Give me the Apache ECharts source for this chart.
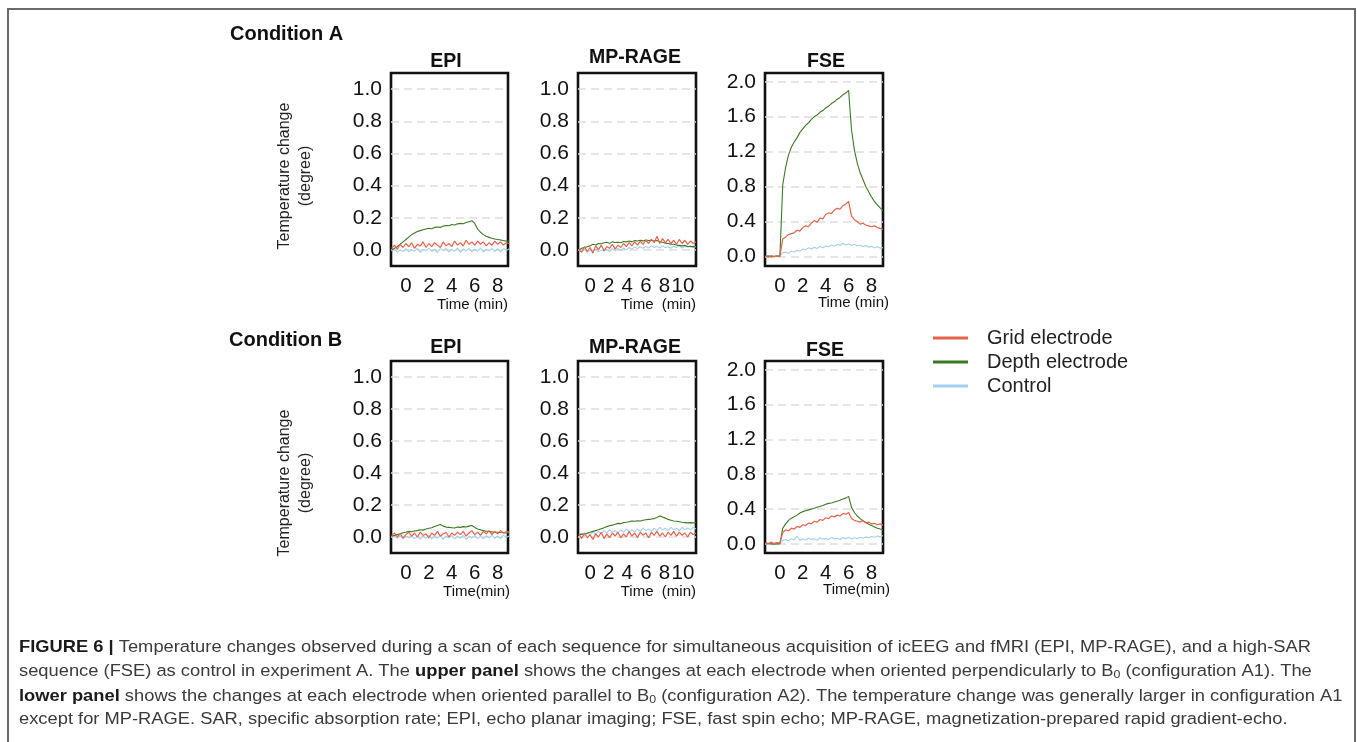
<!DOCTYPE html>
<html>
<head>
<meta charset="utf-8">
<script src="https://cdn.jsdelivr.net/npm/echarts@6/dist/echarts.min.js"></script>
<style>
html,body{margin:0;padding:0;background:#fff;}
#chart{position:absolute;left:0;top:0;width:1357px;height:742px;}
#frame{position:absolute;left:7px;top:8px;width:1349px;height:800px;box-sizing:border-box;border:2px solid #6a6a6a;border-bottom:none;pointer-events:none;}
</style>
</head>
<body>
<div id="chart"></div>
<div id="frame"></div>
<script>
// ---------- DATA ----------
const seriesNames = ['Grid electrode', 'Depth electrode', 'Control'];
const panelTitles = ['EPI', 'MP-RAGE', 'FSE'];
const ticksEpi = [0, 2, 4, 6, 8];
const ticksMp = [0, 2, 4, 6, 8, 10];
const ticksFse = [0, 2, 4, 6, 8];
const yTicks1 = [0, 0.2, 0.4, 0.6, 0.8, 1.0];
const yTicks2 = [0, 0.4, 0.8, 1.2, 1.6, 2.0];

// sample times (min)
const tA = [-1.25,-1,-0.75,-0.5,-0.25,0,0.25,
  0.5,0.75,1,1.25,1.5,1.75,2,
  2.25,2.5,2.75,3,3.25,3.5,3.75,
  4,4.25,4.5,4.75,5,5.25,5.5,
  5.75,6,6.25,6.5,6.75,7,7.25,
  7.5,7.75,8,8.25,8.5,8.75,9];
const tM = [-1.2,-0.9,-0.6,-0.3,0,0.3,0.6,
  0.9,1.2,1.5,1.8,2.1,2.4,2.7,
  3,3.3,3.6,3.9,4.2,4.5,4.8,
  5.1,5.4,5.7,6,6.3,6.6,6.9,
  7.2,7.5,7.8,8.1,8.4,8.7,9,
  9.3,9.6,9.9,10.2,10.5,10.8,11.1,11.4];

// Condition A - EPI
const epiA_grid = [0.01,0.03,0.005,0.035,0.015,0.04,0.02,
  0.045,0.01,0.035,0.025,0.05,0.015,0.04,
  0.02,0.045,0.03,0.015,0.05,0.025,0.04,
  0.02,0.055,0.03,0.045,0.025,0.06,0.035,
  0.05,0.03,0.055,0.035,0.05,0.025,0.045,
  0.03,0.055,0.035,0.05,0.03,0.045,0.04];
const epiA_depth = [0.0,0.01,0.02,0.035,0.05,0.065,0.08,
  0.095,0.105,0.115,0.12,0.125,0.13,0.135,
  0.132,0.14,0.143,0.14,0.148,0.152,0.15,
  0.158,0.155,0.162,0.165,0.163,0.17,0.175,
  0.182,0.165,0.13,0.11,0.095,0.085,0.078,
  0.072,0.068,0.065,0.062,0.058,0.055,0.055];
const epiA_ctrl = [-0.005,0.005,-0.015,0.0,-0.01,0.008,-0.012,
  0.003,-0.008,0.01,-0.015,0.002,-0.005,0.012,
  -0.01,0.005,-0.018,0.008,-0.004,0.01,-0.012,
  0.004,-0.008,0.012,-0.015,0.006,-0.006,0.01,
  -0.012,0.004,-0.008,0.012,-0.014,0.005,-0.006,
  0.01,-0.01,0.006,-0.012,0.008,-0.004,0.005];

// Condition A - MP-RAGE
const mpA_grid = [0.0,-0.015,0.02,-0.01,0.015,-0.02,0.025,
  0.0,0.03,-0.005,0.02,0.01,0.035,0.005,
  0.03,0.015,0.04,0.02,0.045,0.025,0.05,
  0.03,0.055,0.035,0.06,0.04,0.065,0.045,
  0.085,0.04,0.07,0.045,0.065,0.04,0.06,
  0.035,0.065,0.04,0.06,0.035,0.055,0.04,0.05];
const mpA_depth = [0.0,0.01,0.015,0.02,0.025,0.035,0.03,
  0.04,0.038,0.045,0.048,0.042,0.05,0.046,
  0.048,0.045,0.052,0.05,0.055,0.05,0.058,
  0.055,0.06,0.056,0.062,0.058,0.06,0.055,
  0.058,0.05,0.048,0.042,0.04,0.036,0.035,
  0.03,0.028,0.025,0.027,0.022,0.02,0.022,0.018];
const mpA_ctrl = [0.0,-0.01,0.005,-0.015,0.0,-0.01,0.005,
  -0.012,0.0,-0.008,0.005,-0.01,0.008,-0.005,
  0.01,-0.005,0.012,0.0,0.015,0.005,0.018,
  0.008,0.02,0.01,0.022,0.012,0.025,0.015,
  0.022,0.012,0.025,0.015,0.02,0.01,0.022,
  0.015,0.025,0.012,0.022,0.018,0.028,0.015,0.022];

// Condition A - FSE
const fseA_grid = [0.0,-0.01,0.01,-0.005,0.005,0.0,0.2,
  0.22,0.25,0.26,0.27,0.3,0.29,0.33,
  0.35,0.34,0.38,0.41,0.39,0.44,0.43,
  0.48,0.5,0.49,0.53,0.55,0.54,0.58,
  0.6,0.63,0.46,0.42,0.4,0.37,0.38,
  0.36,0.35,0.34,0.35,0.33,0.32,0.31];
const fseA_depth = [0.0,0.005,-0.005,0.0,0.005,0.0,0.82,
  1.02,1.16,1.25,1.31,1.36,1.42,1.46,
  1.5,1.53,1.57,1.6,1.62,1.65,1.67,
  1.7,1.72,1.75,1.77,1.8,1.82,1.85,
  1.87,1.9,1.45,1.22,1.07,0.96,0.88,
  0.8,0.74,0.68,0.63,0.59,0.555,0.525];
const fseA_ctrl = [0.0,0.01,-0.01,0.005,0.0,0.01,0.04,
  0.05,0.035,0.06,0.05,0.07,0.06,0.085,
  0.075,0.1,0.085,0.105,0.09,0.115,0.1,
  0.12,0.11,0.13,0.115,0.14,0.125,0.15,
  0.13,0.145,0.125,0.14,0.12,0.13,0.11,
  0.125,0.105,0.115,0.1,0.11,0.095,0.1];

// Condition B - EPI
const epiB_grid = [0.01,0.025,0.0,0.02,-0.005,0.015,0.03,
  0.005,0.025,0.0,0.03,0.01,0.02,-0.005,
  0.025,0.01,0.035,0.005,0.02,0.03,0.0,
  0.025,0.01,0.03,0.015,0.035,0.005,0.025,
  0.04,0.015,0.03,0.01,0.035,0.02,0.04,
  0.015,0.035,0.02,0.04,0.025,0.035,0.03];
const epiB_depth = [0.005,0.01,0.015,0.02,0.027,0.03,0.035,
  0.033,0.038,0.04,0.045,0.043,0.05,0.055,
  0.058,0.065,0.072,0.078,0.068,0.062,0.06,
  0.058,0.056,0.062,0.06,0.065,0.062,0.068,
  0.072,0.06,0.05,0.045,0.04,0.036,0.035,
  0.032,0.03,0.03,0.028,0.027,0.025,0.026];
const epiB_ctrl = [0.0,0.01,-0.008,0.005,-0.012,0.006,-0.005,
  0.008,-0.01,0.004,-0.014,0.006,-0.006,0.01,
  -0.012,0.003,-0.008,0.01,-0.015,0.005,-0.004,
  0.008,-0.012,0.006,-0.008,0.01,-0.014,0.004,
  -0.006,0.01,-0.01,0.005,-0.012,0.008,-0.005,
  0.01,-0.008,0.006,-0.01,0.012,-0.004,0.006];

// Condition B - MP-RAGE
const mpB_grid = [0.02,-0.01,0.025,-0.005,0.015,-0.015,0.02,
  0.0,0.03,-0.01,0.02,-0.005,0.025,0.005,
  0.03,-0.005,0.02,0.0,0.035,0.005,0.025,
  -0.005,0.03,0.01,0.025,-0.005,0.03,0.01,
  0.035,0.005,0.025,0.0,0.03,0.01,0.035,
  0.005,0.03,0.01,0.025,0.0,0.03,0.015,0.025];
const mpB_depth = [0.015,0.018,0.02,0.025,0.03,0.035,0.04,
  0.045,0.052,0.058,0.065,0.07,0.074,0.08,
  0.085,0.083,0.09,0.092,0.095,0.1,0.098,
  0.102,0.1,0.105,0.108,0.11,0.112,0.115,
  0.122,0.132,0.125,0.118,0.11,0.105,0.1,
  0.098,0.095,0.092,0.09,0.088,0.09,0.088,0.092];
const mpB_ctrl = [0.01,0.02,0.005,0.025,0.015,0.03,0.02,
  0.035,0.02,0.04,0.025,0.045,0.03,0.04,
  0.025,0.045,0.03,0.05,0.035,0.045,0.03,
  0.05,0.035,0.055,0.04,0.05,0.035,0.055,
  0.04,0.06,0.045,0.055,0.04,0.06,0.045,
  0.055,0.04,0.06,0.045,0.055,0.045,0.06,0.05];

// Condition B - FSE
const fseB_grid = [0.015,0.0,0.02,0.005,0.015,0.01,0.13,
  0.16,0.15,0.18,0.17,0.2,0.19,0.22,
  0.21,0.24,0.23,0.26,0.25,0.28,0.27,
  0.3,0.29,0.32,0.31,0.33,0.32,0.35,
  0.34,0.36,0.29,0.27,0.26,0.25,0.265,
  0.24,0.25,0.23,0.235,0.22,0.23,0.215];
const fseB_depth = [0.0,0.005,0.0,-0.005,0.0,0.0,0.18,
  0.23,0.27,0.295,0.31,0.33,0.355,0.37,
  0.38,0.39,0.4,0.41,0.42,0.43,0.44,
  0.455,0.465,0.47,0.48,0.49,0.5,0.515,
  0.525,0.545,0.42,0.36,0.32,0.29,0.265,
  0.245,0.225,0.21,0.195,0.18,0.17,0.16];
const fseB_ctrl = [0.0,0.01,-0.005,0.005,0.0,0.005,0.04,
  0.05,0.035,0.06,0.045,0.09,0.04,0.055,
  0.045,0.065,0.05,0.06,0.04,0.07,0.055,
  0.06,0.05,0.075,0.055,0.065,0.05,0.07,
  0.06,0.075,0.055,0.07,0.06,0.075,0.065,
  0.08,0.07,0.085,0.075,0.09,0.08,0.095];

// ---------- LAYOUT ----------
const FONT = '"Liberation Sans", Arial, Helvetica, sans-serif';
const colors = {grid: '#e8634c', depth: '#3b7a22', ctrl: '#a3d0ee'};

const panels = [
  {title: panelTitles[0], t: tA, grid: epiA_grid, depth: epiA_depth, ctrl: epiA_ctrl, xt: ticksEpi, yt: yTicks1, xmin: -1.3, xmax: 8.9, ymin: -0.1, ymax: 1.1,
   box: {left: 391, top: 73, width: 117, height: 193}, titleXY: [446, 62], timeXY: [508, 305], timeText: 'Time (min)'},
  {title: panelTitles[1], t: tM, grid: mpA_grid, depth: mpA_depth, ctrl: mpA_ctrl, xt: ticksMp, yt: yTicks1, xmin: -1.3, xmax: 11.4, ymin: -0.1, ymax: 1.1,
   box: {left: 578, top: 73, width: 118, height: 193}, titleXY: [635, 58], timeXY: [696, 305], timeText: 'Time  (min)'},
  {title: panelTitles[2], t: tA, grid: fseA_grid, depth: fseA_depth, ctrl: fseA_ctrl, xt: ticksFse, yt: yTicks2, xmin: -1.3, xmax: 9.0, ymin: -0.11, ymax: 2.1,
   box: {left: 765, top: 73, width: 118, height: 193}, titleXY: [826, 62], timeXY: [889, 303], timeText: 'Time (min)'},
  {title: panelTitles[0], t: tA, grid: epiB_grid, depth: epiB_depth, ctrl: epiB_ctrl, xt: ticksEpi, yt: yTicks1, xmin: -1.3, xmax: 8.9, ymin: -0.1, ymax: 1.1,
   box: {left: 391, top: 361, width: 117, height: 192}, titleXY: [446, 348], timeXY: [510, 592], timeText: 'Time(min)'},
  {title: panelTitles[1], t: tM, grid: mpB_grid, depth: mpB_depth, ctrl: mpB_ctrl, xt: ticksMp, yt: yTicks1, xmin: -1.3, xmax: 11.4, ymin: -0.1, ymax: 1.1,
   box: {left: 578, top: 361, width: 118, height: 192}, titleXY: [635, 348], timeXY: [696, 592], timeText: 'Time  (min)'},
  {title: panelTitles[2], t: tA, grid: fseB_grid, depth: fseB_depth, ctrl: fseB_ctrl, xt: ticksFse, yt: yTicks2, xmin: -1.3, xmax: 9.0, ymin: -0.105, ymax: 2.1,
   box: {left: 765, top: 361, width: 118, height: 192}, titleXY: [825, 351], timeXY: [890, 590], timeText: 'Time(min)'}
];

function zip(t, v) { return v.map((y, i) => [t[i], y]); }

const grids = [], xAxes = [], yAxes = [], series = [], graphics = [];
panels.forEach((p, i) => {
  grids.push(Object.assign({show: true, borderColor: '#111', borderWidth: 2.6, backgroundColor: 'transparent', containLabel: false}, p.box));
  xAxes.push({
    type: 'value', gridIndex: i, min: p.xmin, max: p.xmax,
    axisLine: {show: false}, splitLine: {show: false},
    axisTick: {show: false, customValues: p.xt},
    axisLabel: {customValues: p.xt, fontSize: 20.5, color: '#111', fontFamily: FONT, margin: 10}
  });
  yAxes.push({
    type: 'value', gridIndex: i, min: p.ymin, max: p.ymax,
    axisLine: {show: false},
    axisTick: {show: false, customValues: p.yt},
    axisLabel: {customValues: p.yt, fontSize: 21, color: '#111', fontFamily: FONT, margin: 9,
      formatter: v => v.toFixed(1)},
    splitLine: {show: true, lineStyle: {type: [8, 5], color: '#dedede', width: 1.6}}
  });
  const common = {type: 'line', xAxisIndex: i, yAxisIndex: i, showSymbol: false, symbol: 'none', clip: true, animation: false};
  series.push(Object.assign({}, common, {name: seriesNames[2], data: zip(p.t, p.ctrl), color: colors.ctrl, itemStyle: {color: colors.ctrl}, lineStyle: {color: colors.ctrl, width: 1.1}}));
  series.push(Object.assign({}, common, {name: seriesNames[1], data: zip(p.t, p.depth), color: colors.depth, itemStyle: {color: colors.depth}, lineStyle: {color: colors.depth, width: 1.1}}));
  series.push(Object.assign({}, common, {name: seriesNames[0], data: zip(p.t, p.grid), color: colors.grid, itemStyle: {color: colors.grid}, lineStyle: {color: colors.grid, width: 1.2}}));

  graphics.push({type: 'text', x: p.titleXY[0], y: p.titleXY[1], silent: true,
    style: {text: p.title, align: 'center', verticalAlign: 'middle', fontSize: 19.5, fontWeight: 'bold', fontFamily: FONT, fill: '#111'}});
  graphics.push({type: 'text', x: p.timeXY[0], y: p.timeXY[1], silent: true,
    style: {text: p.timeText, align: 'right', verticalAlign: 'middle', fontSize: 15, fontFamily: FONT, fill: '#111'}});
});

// condition labels
graphics.push({type: 'text', x: 230, y: 34, silent: true,
  style: {text: 'Condition A', align: 'left', verticalAlign: 'middle', fontSize: 20, fontWeight: 'bold', fontFamily: FONT, fill: '#111'}});
graphics.push({type: 'text', x: 229, y: 340, silent: true,
  style: {text: 'Condition B', align: 'left', verticalAlign: 'middle', fontSize: 20, fontWeight: 'bold', fontFamily: FONT, fill: '#111'}});

// y axis titles
[176, 483].forEach(cy => {
  graphics.push({type: 'text', x: 295, y: cy, rotation: Math.PI / 2, silent: true,
    style: {text: 'Temperature change\n(degree)', align: 'center', verticalAlign: 'middle', fontSize: 16, lineHeight: 21, fontFamily: FONT, fill: '#222'}});
});

// caption
const capRich = {
  b: {fontSize: 16.3, fontWeight: 'bold', fontFamily: FONT, fill: '#1a1a1a'},
  s: {fontSize: 11, fontFamily: FONT, fill: '#3a3a3a', verticalAlign: 'bottom', lineHeight: 12}
};
const captionLines = [
  '{b|FIGURE 6 |} Temperature changes observed during a scan of each sequence for simultaneous acquisition of icEEG and fMRI (EPI, MP-RAGE), and a high-SAR',
  'sequence (FSE) as control in experiment A. The {b|upper panel} shows the changes at each electrode when oriented perpendicularly to B{s|0} (configuration A1). The',
  '{b|lower panel} shows the changes at each electrode when oriented parallel to B{s|0} (configuration A2). The temperature change was generally larger in configuration A1',
  'except for MP-RAGE. SAR, specific absorption rate; EPI, echo planar imaging; FSE, fast spin echo; MP-RAGE, magnetization-prepared rapid gradient-echo.'
];
const captionY = [648, 672, 697, 720];
captionLines.forEach((line, i) => {
  graphics.push({type: 'text', x: 19, y: captionY[i], scaleX: 1.125, silent: true,
    style: {text: line, rich: capRich, align: 'left', verticalAlign: 'middle', fontSize: 16.3, fontFamily: FONT, fill: '#3a3a3a'}});
});

const chart = echarts.init(document.getElementById('chart'), null, {renderer: 'canvas'});
chart.setOption({
  animation: false,
  backgroundColor: '#fff',
  grid: grids,
  xAxis: xAxes,
  yAxis: yAxes,
  series: series,
  legend: {
    data: seriesNames, orient: 'vertical', left: 933, top: 328, padding: 0,
    icon: 'rect', itemWidth: 35, itemHeight: 3, itemGap: 4,
    selectedMode: false,
    textStyle: {fontSize: 20, lineHeight: 20, color: '#222', fontFamily: FONT, padding: [0, 0, 0, 14]}
  },
  graphic: graphics
});
</script>
</body>
</html>
